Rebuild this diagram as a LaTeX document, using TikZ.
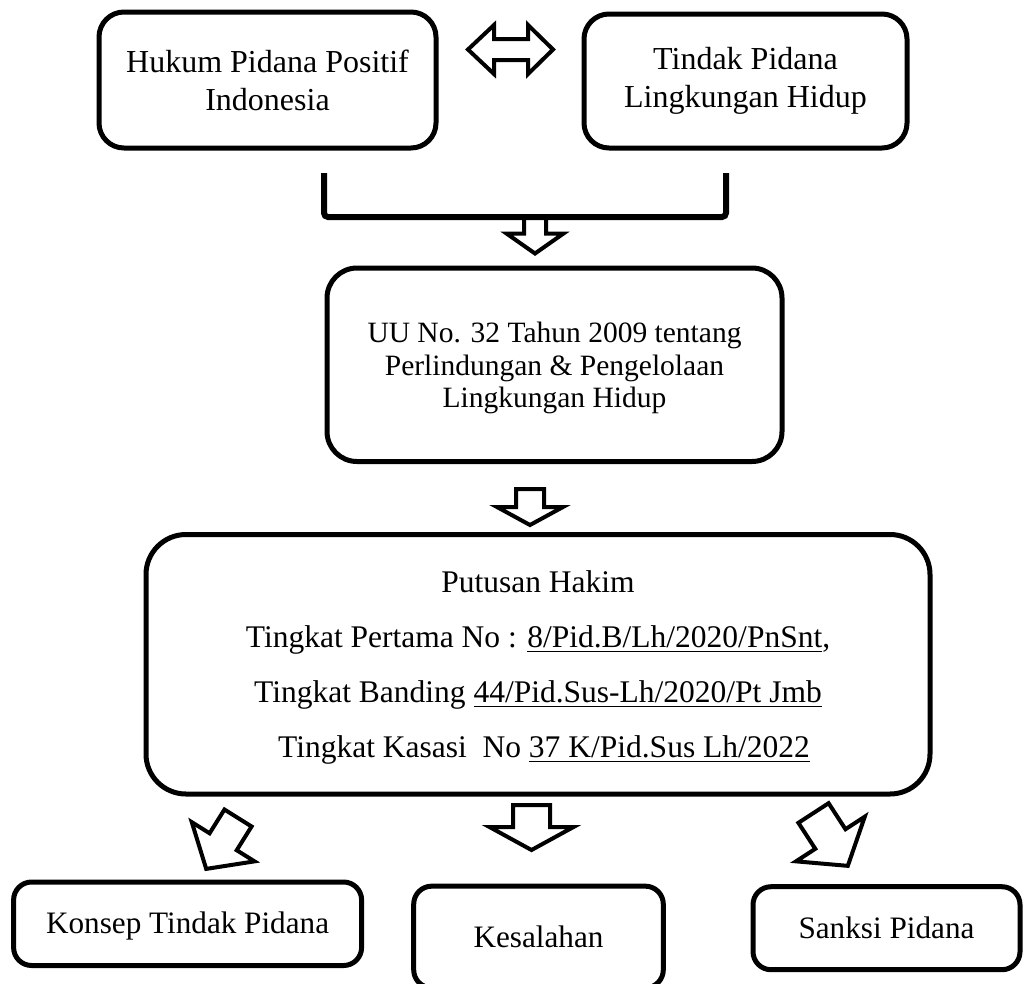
\documentclass[tikz,border=0pt]{standalone}
\usepackage{fontspec}
\setmainfont{Liberation Serif}
\newsavebox\undlbox
\newcommand\undl[1]{\sbox\undlbox{#1}\rlap{\rule[-5pt]{\wd\undlbox}{1.8pt}}\usebox\undlbox}
\newcommand\fsTop{\fontsize{32}{38}\selectfont}
\newcommand\fsUU{\fontsize{29.5}{32.5}\selectfont}
\newcommand\fsPut{\fontsize{31.5}{55}\selectfont}
\newcommand\fsBot{\fontsize{31.2}{36}\selectfont}
\tikzset{
  box/.style={draw, line width=5pt, rounded corners=#1, align=center, inner sep=0pt},
  box/.default=22pt,
  blockarrowline/.style={draw, line width=4pt, line join=miter, fill=white},
  bracketline/.style={draw, line width=6pt, rounded corners=4pt}
}
% x y rotation shaft-halfwidth shaft-length head-halfwidth head-length
\newcommand\blockarrow[7]{%
  \draw[blockarrowline, shift={(#1,#2)}, rotate=#3]
    (-#4,0) -- (-#4,#5) -- (-#6,#5) -- (0,{#5+#7}) -- (#6,#5) -- (#4,#5) -- (#4,0) -- cycle;}
\begin{document}
\begin{tikzpicture}[x=1pt, y=-1pt]
  \clip (0,0) rectangle (1027,983);
  \fill[white] (0,0) rectangle (1027,983);

  % top boxes
  \node[box=25pt, minimum width=337pt, minimum height=136pt, font=\fsTop] (hukum) at (267.5,80) {Hukum Pidana Positif\\Indonesia};
  \node[box=25pt, minimum width=323pt, minimum height=134pt, font=\fsTop] (tindak) at (745.5,81) {Tindak Pidana\\Lingkungan Hidup};

  % double arrow between them
  \draw[blockarrowline] (468,49.5) -- (494,25) -- (494,39) -- (528,39) -- (528,25) -- (553,49.5)
        -- (528,74) -- (528,60) -- (494,60) -- (494,74) -- cycle;

  % bracket joining both
  \coordinate (bl) at (324,173);
  \coordinate (br) at (726,173);
  \blockarrow{535}{217}{0}{11}{16.5}{28.5}{20}
  \draw[bracketline] (bl) -- (bl |- 0,217) -- (br |- 0,217) -- (br);

  % law box
  \node[box=30pt, minimum width=455pt, minimum height=193.5pt, font=\fsUU] (uu) at (554.5,364.75)
    {\rule{0pt}{27pt}UU No. 32 Tahun 2009 tentang\\Perlindungan \& Pengelolaan\\Lingkungan Hidup};

  \blockarrow{530}{489}{0}{14}{18}{33}{18}

  % verdict box
  \node[box=40pt, minimum width=784pt, minimum height=259.5pt, font=\fsPut] (putusan) at (538,664.25)
    {\rule{0pt}{28pt}Putusan Hakim\\
     Tingkat Pertama No : \undl{8/Pid.B/Lh/2020/PnSnt},\\
     Tingkat Banding \undl{44/Pid.Sus-Lh/2020/Pt Jmb}\\
     \hspace*{12pt}Tingkat Kasasi\ \ No \undl{37 K/Pid.Sus Lh/2022}};

  % arrows to bottom boxes
  \blockarrow{238}{818}{-32}{16}{28}{37}{32}
  \blockarrow{531.5}{805}{0}{18.5}{22}{42}{23}
  \blockarrow{813.5}{813}{33}{18}{31}{41}{32}

  % bottom boxes
  \node[box=18pt, minimum width=348pt, minimum height=83.5pt, font=\fsBot] (konsep) at (187.6,923.75) {\rule{0pt}{27pt}Konsep Tindak Pidana};
  \node[box=18pt, minimum width=249.6pt, minimum height=101.7pt, font=\fsBot] (kesalahan) at (538.5,937) {Kesalahan};
  \node[box=18pt, minimum width=267pt, minimum height=83pt, font=\fsBot] (sanksi) at (886.5,928.2) {Sanksi Pidana};
\end{tikzpicture}
\end{document}
